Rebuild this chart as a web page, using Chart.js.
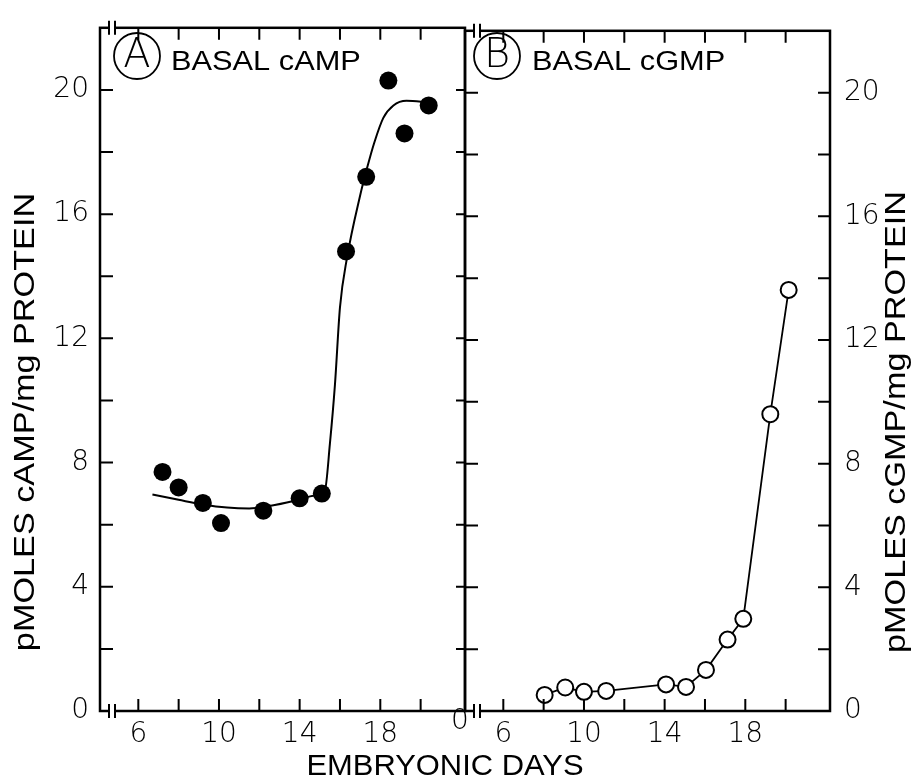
<!DOCTYPE html>
<html>
<head>
<meta charset="utf-8">
<script src="https://cdn.jsdelivr.net/npm/chart.js@4.4.0/dist/chart.umd.min.js"></script>
<style>
  html, body { margin: 0; padding: 0; background: #fff; }
  #wrap { position: relative; width: 912px; height: 782px; }
  #wrap canvas { position: absolute; left: 0; top: 0; }
</style>
</head>
<body>
<div id="wrap">
  <canvas id="campChart" width="912" height="782"></canvas>
  <canvas id="cgmpChart" width="912" height="782"></canvas>
</div>
<script>
// basal cAMP: embryonic day of each sample and pmol/mg protein
const campDays   = [7.2, 8.0, 9.2, 10.1, 12.2, 14.0, 15.1, 16.3, 17.3, 18.4, 19.2, 20.4];
const campValues = [7.7, 7.2, 6.7, 6.05, 6.45, 6.85, 7.0, 14.8, 17.2, 20.3, 18.6, 19.5];

// smooth curve drawn through the cAMP points
const campFitDays   = [6.7, 8.0, 9.2, 10.4, 11.5, 12.5, 13.7, 14.8, 15.25, 15.5, 15.75, 16.0, 16.35, 17.0, 17.35, 17.7, 18.15, 18.65, 19.3, 20.4];
const campFitValues = [6.97, 6.8, 6.65, 6.55, 6.52, 6.6, 6.76, 6.95, 7.1, 8.6, 10.5, 13.0, 14.6, 16.6, 17.5, 18.3, 19.1, 19.5, 19.65, 19.6];

// basal cGMP
const cgmpDays   = [8.05, 9.07, 10.0, 11.1, 14.07, 15.06, 16.05, 17.12, 17.9, 19.24, 20.15];
const cgmpValues = [0.52, 0.76, 0.62, 0.65, 0.86, 0.78, 1.33, 2.31, 2.98, 9.6, 13.62];

// axis ticks
const dayTicks    = [6, 8, 10, 12, 14, 16, 18, 20];
const dayLabels   = [6, 10, 14, 18];
const levelTicks  = [0, 2, 4, 6, 8, 10, 12, 14, 16, 18, 20];
const levelLabels = [0, 4, 8, 12, 16, 20];

const tickFont = { family: '"DejaVu Sans", sans-serif', size: 28, weight: 200 };
const textFamily = '"Liberation Sans", Arial, sans-serif';

function toPoints(xs, ys) {
  return xs.map((x, i) => ({ x: x, y: ys[i] }));
}

// text with a horizontal stretch, optionally rotated
function wideText(ctx, text, x, y, size, stretch, angle, align, family, weight) {
  ctx.save();
  ctx.translate(x, y);
  ctx.rotate(angle || 0);
  ctx.scale(stretch, 1);
  ctx.font = (weight || 'normal') + ' ' + size + 'px ' + (family || textFamily);
  ctx.textAlign = align || 'left';
  ctx.textBaseline = 'middle';
  ctx.fillStyle = '#000';
  ctx.fillText(text, 0, 0);
  ctx.restore();
}

// box, inward ticks, axis breaks and panel captions
const framePlugin = {
  id: 'frame',
  afterDraw(chart, args, opts) {
    const ctx = chart.ctx;
    const a = chart.chartArea;
    const xs = chart.scales.x, ys = chart.scales.y;
    ctx.save();
    ctx.strokeStyle = '#000';
    ctx.lineWidth = 2.5;
    ctx.strokeRect(a.left, a.top, a.right - a.left, a.bottom - a.top);

    ctx.lineWidth = 2;
    ctx.beginPath();
    dayTicks.forEach(d => {
      const x = xs.getPixelForValue(d);
      ctx.moveTo(x, a.bottom); ctx.lineTo(x, a.bottom - 12);
      ctx.moveTo(x, a.top); ctx.lineTo(x, a.top + 12);
    });
    levelTicks.forEach(v => {
      if (v === 0) return;
      const y = ys.getPixelForValue(v);
      ctx.moveTo(a.left, y); ctx.lineTo(a.left + opts.tickLeft, y);
      ctx.moveTo(a.right, y); ctx.lineTo(a.right - opts.tickRight, y);
    });
    ctx.stroke();

    // broken day axis, top and bottom
    [a.top, a.bottom].forEach(y => {
      ctx.fillStyle = '#fff';
      ctx.fillRect(a.left + 10, y - 2, 4, 4);
      ctx.beginPath();
      ctx.moveTo(a.left + 9, y - 7); ctx.lineTo(a.left + 9, y + 7);
      ctx.moveTo(a.left + 15, y - 7); ctx.lineTo(a.left + 15, y + 7);
      ctx.stroke();
    });

    // circled panel letter and caption
    ctx.lineWidth = 1.8;
    ctx.beginPath();
    ctx.arc(opts.circleX, opts.circleY, 23, 0, Math.PI * 2);
    ctx.stroke();
    wideText(ctx, opts.letter, opts.circleX, opts.circleY + 1, 40, 1.0, 0, 'center', '"DejaVu Sans", sans-serif', 200);
    wideText(ctx, opts.caption, opts.captionX, 63, 27, 1.14, 0, 'left');

    // axis title
    wideText(ctx, opts.yTitle, opts.yTitleX, 422, 29, 1.18, -Math.PI / 2, 'center');

    (opts.extra || []).forEach(t => t(ctx, a));
    ctx.restore();
  }
};

function dayScale() {
  return {
    type: 'linear',
    min: 4.1,
    max: 22.2,
    afterBuildTicks: s => { s.ticks = dayTicks.map(v => ({ value: v })); },
    afterFit: s => { s.height = 71; },
    grid: { display: false, drawTicks: false },
    border: { display: false },
    ticks: {
      autoSkip: false,
      maxRotation: 0,
      padding: 7,
      color: '#000',
      font: tickFont,
      callback: v => dayLabels.includes(v) ? String(v) : ''
    }
  };
}

function levelScale(position, width, padding) {
  return {
    type: 'linear',
    position: position,
    min: 0,
    max: 22,
    afterBuildTicks: s => { s.ticks = levelTicks.map(v => ({ value: v })); },
    afterFit: s => { s.width = width; },
    grid: { display: false, drawTicks: false },
    border: { display: false },
    ticks: {
      autoSkip: false,
      padding: padding,
      color: '#000',
      font: tickFont,
      callback: v => levelLabels.includes(v) ? String(v) : ''
    }
  };
}

// panel A
new Chart(document.getElementById('campChart'), {
  type: 'scatter',
  data: {
    datasets: [
      {
        label: 'cAMP',
        data: toPoints(campDays, campValues),
        pointRadius: 9,
        pointBackgroundColor: '#000',
        pointBorderColor: '#000',
        pointBorderWidth: 0,
        showLine: false
      },
      {
        label: 'fit',
        data: toPoints(campFitDays, campFitValues),
        showLine: true,
        pointRadius: 0,
        borderColor: '#000',
        borderWidth: 2,
        cubicInterpolationMode: 'monotone',
        fill: false
      }
    ]
  },
  options: {
    responsive: false,
    animation: false,
    layout: { padding: { left: 0, right: 447, top: 19, bottom: 0 } },
    plugins: {
      legend: { display: false },
      tooltip: { enabled: false },
      frame: {
        tickLeft: 13, tickRight: 9,
        circleX: 137, circleY: 56, letter: 'A',
        caption: 'BASAL cAMP', captionX: 171,
        yTitle: 'pMOLES cAMP/mg PROTEIN', yTitleX: 26,
        extra: [
          ctx => wideText(ctx, 'EMBRYONIC DAYS', 445, 767, 30, 1.03, 0, 'center')
        ]
      }
    },
    scales: { x: dayScale(), y: levelScale('left', 100, 11) }
  },
  plugins: [framePlugin]
});

// panel B
new Chart(document.getElementById('cgmpChart'), {
  type: 'scatter',
  data: {
    datasets: [
      {
        label: 'cGMP',
        data: toPoints(cgmpDays, cgmpValues),
        showLine: true,
        borderColor: '#000',
        borderWidth: 1.8,
        pointRadius: 8,
        pointBackgroundColor: '#fff',
        pointBorderColor: '#000',
        pointBorderWidth: 2
      }
    ]
  },
  options: {
    responsive: false,
    animation: false,
    layout: { padding: { left: 465, right: 0, top: 19, bottom: 0 } },
    plugins: {
      legend: { display: false },
      tooltip: { enabled: false },
      frame: {
        tickLeft: 13, tickRight: 12,
        circleX: 497, circleY: 56, letter: 'B',
        caption: 'BASAL cGMP', captionX: 532,
        yTitle: 'pMOLES cGMP/mg PROTEIN', yTitleX: 897,
        extra: [
          (ctx, a) => {
            ctx.save();
            ctx.font = '200 28px "DejaVu Sans", sans-serif';
            ctx.fillStyle = '#000';
            ctx.textAlign = 'center';
            ctx.textBaseline = 'middle';
            ctx.fillText('0', a.left - 5, a.bottom + 11);
            ctx.restore();
          }
        ]
      }
    },
    scales: { x: dayScale(), y: levelScale('right', 82, 14) }
  },
  plugins: [framePlugin]
});
</script>
</body>
</html>
